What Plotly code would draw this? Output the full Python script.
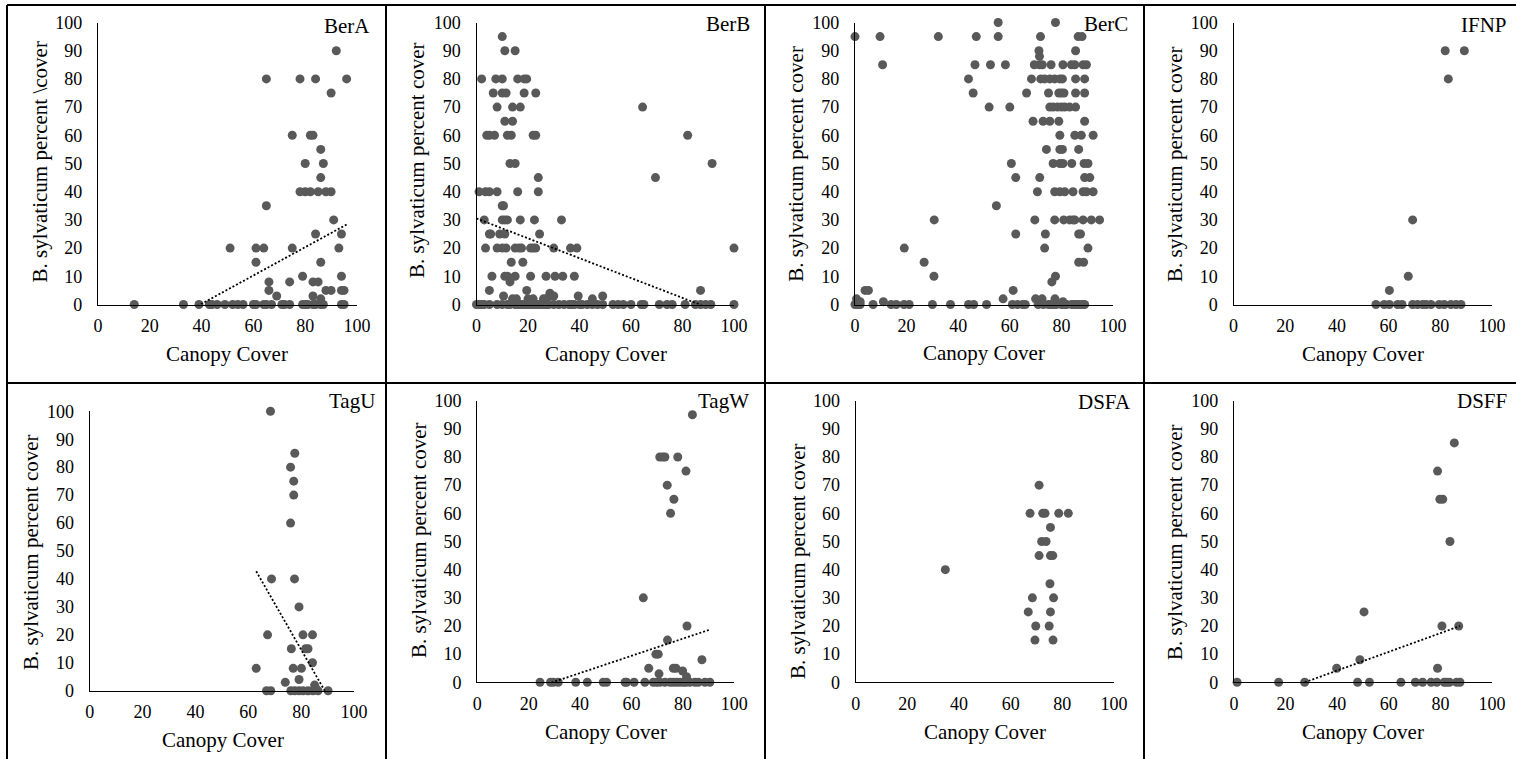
import plotly.graph_objects as go

# ---------------- data ----------------
panel_names = ["BerA", "BerB", "BerC", "IFNP", "TagU", "TagW", "DSFA", "DSFF"]
y_titles = ["B. sylvaticum percent \\cover"] + ["B. sylvaticum percent cover"] * 7
x_title = "Canopy Cover"
x_ticks = [0, 20, 40, 60, 80, 100]
y_ticks = [0, 10, 20, 30, 40, 50, 60, 70, 80, 90, 100]

berA_x = [14, 33, 39, 43, 44, 46, 49, 52, 54, 56, 60, 61, 64, 65, 67, 71, 72, 74, 79, 80, 81, 83, 84, 86, 87, 94, 95,
          51, 61, 64, 61, 65, 65, 66, 66, 69, 74, 75, 75, 78, 79, 80, 78, 80, 82, 85, 88, 90, 82, 83, 84, 84, 83, 85,
          83, 86, 86, 87, 86, 86, 88, 90, 91, 90, 92, 94, 93, 94, 94, 95, 96]
berA_y = [0] * 27 + \
         [20, 20, 20, 15, 80, 35, 8, 5, 3, 8, 20, 60, 80, 10, 50, 40, 40, 40, 40, 40, 40, 60, 60, 80, 25, 8, 8,
          3, 55, 45, 50, 15, 2, 5, 5, 30, 75, 90, 25, 20, 10, 5, 5, 80]

berB_x = [10, 11, 15, 2, 7.5, 10, 16, 18.5, 19.5, 6.5, 10, 11.5, 18.5, 23, 8, 14, 17, 11, 14, 4, 5, 7, 12, 13.5, 22, 23,
          13, 15, 24, 1, 3.5, 5, 8, 16, 24, 10, 10.5, 3, 10, 11, 12, 17, 22.5, 33, 5, 5.5, 9, 11, 24.5,
          3.5, 8, 10, 11.5, 15, 16.5, 17.5, 21, 22, 23, 30, 36.5, 39, 13.5, 18, 6, 11, 12, 15, 21, 27, 30.5, 33.5, 38,
          13, 5, 19.5, 28.5, 10.5, 29, 30, 39.5, 49, 45, 14, 15.5, 20, 22, 26, 27, 87, 64.5, 82, 91.5, 69.5, 100,
          0, 1, 2, 3, 5, 8, 10, 12, 13, 15, 16, 17, 18, 19, 20, 21, 22, 23, 24, 25, 26, 27, 28, 30, 32, 34, 36, 37,
          38, 40, 41, 43, 45, 47, 49, 53, 55, 57, 60, 64, 65, 71, 74, 76, 81, 85, 87, 89, 91, 100]
berB_y = [95, 90, 90, 80, 80, 80, 80, 80, 80, 75, 75, 75, 75, 75, 70, 70, 70, 65, 65, 60, 60, 60, 60, 60, 60, 60,
          50, 50, 45, 40, 40, 40, 40, 40, 40, 35, 35, 30, 30, 30, 30, 30, 30, 30, 25, 25, 25, 25, 25,
          20, 20, 20, 20, 20, 20, 20, 20, 20, 20, 20, 20, 20, 15, 15, 10, 10, 10, 10, 10, 10, 10, 10, 10,
          8, 5, 5, 4, 3, 3, 3, 3, 3, 2, 2, 2, 2, 2, 2, 2, 5, 70, 60, 50, 45, 20] + [0] * 50

berC_x = [0, 9.7, 10.7, 32.3, 47, 55.5, 55.5, 46.5, 52.5, 58.3, 44, 45.8, 52, 60, 66.5, 77.7, 71.9, 71.3, 71.5,
          69.5, 71.5, 72.6, 76, 68.4, 72, 73.5, 75.5, 77.4, 79.4, 80.4, 75, 79, 80, 81,
          75.5, 76.8, 78.5, 80, 81.3, 83.2, 69, 72.9, 75.5, 79, 79.4, 74.2, 79.4, 80.4, 76.8, 79.4, 80.6, 84,
          71.6, 70.7, 60.6, 62.3, 54.8, 30.7, 69.7, 62.3, 73.8, 73.5, 19.1, 26.8, 30.6, 76.3, 77.7, 61.3,
          3.9, 5.2, 57.4, 11, 0.6, 2,
          77.4, 79.4, 81.3, 84.5, 88.4, 89.7, 92.3, 77.4, 80.9, 83.2, 84.5, 85.2, 88.4, 91.6, 94.8,
          86.7, 87.4, 86.7, 88.6, 90.3, 88.8, 90.3, 89, 91, 85.2, 87.7, 92.3, 86.7, 89, 85.5, 85.5, 89,
          85.5, 89, 80.6, 83.9, 85.2, 88.4, 89.7, 85.5, 86.5, 88,
          70, 72.5, 77.5, 80.6,
          0, 1, 2, 7, 14, 16, 19, 21, 30, 37, 44, 46, 51, 61, 63, 65, 66, 71, 73, 75, 76, 77, 78, 80, 81, 82,
          84, 85, 86, 87, 88, 89]
berC_y = [95, 95, 85, 95, 95, 100, 95, 85, 85, 85, 80, 75, 70, 70, 75, 100, 95, 90, 88,
          85, 85, 85, 85, 80, 80, 80, 80, 80, 80, 80, 75, 75, 75, 75,
          70, 70, 70, 70, 70, 70, 65, 65, 65, 65, 60, 55, 55, 55, 50, 50, 50, 50,
          45, 40, 50, 45, 35, 30, 30, 25, 25, 20, 20, 15, 10, 8, 10, 5,
          5, 5, 2, 1, 2, 1,
          40, 40, 40, 40, 40, 40, 40, 30, 30, 30, 30, 30, 30, 30, 30,
          25, 25, 15, 15, 20, 50, 50, 45, 45, 60, 60, 60, 55, 65, 70, 75, 75,
          80, 80, 85, 85, 85, 85, 85, 90, 95, 95,
          2, 2, 2, 1] + [0] * 32

ifnp_x = [81.9, 89.3, 83.1, 69.3, 67.6, 60.3,
          55.1, 58.3, 60.3, 63.5, 65.2, 69.3, 71.2, 73.2, 74.5, 76.4, 79.6, 81.5, 84.1, 86.1, 88]
ifnp_y = [90, 90, 80, 30, 10, 5] + [0] * 15

tagU_x = [68.4, 77.6, 76, 77.2, 77.2, 76, 68.8, 77.5, 79.2, 67.3, 80.7, 84.3, 76.3, 81.7, 82.6, 84.3, 63, 77, 80.1,
          79.2, 74, 85.1, 85.5,
          66.9, 68.5, 76.1, 77.6, 79.2, 80.7, 82.6, 84.5, 86.4, 90.2]
tagU_y = [100, 85, 80, 75, 70, 60, 40, 40, 30, 20, 20, 20, 15, 15, 15, 10, 8, 8, 8, 4, 3, 2, 1] + [0] * 10

tagW_x = [83.7, 71, 72.1, 73, 78, 81.2, 73.9, 76.5, 75.2, 64.6, 81.6, 74, 69.5, 70.4, 87.4, 66.7, 76.3, 77.3,
          79.9, 70.7, 81.4,
          24.4, 28.5, 29.6, 31.5, 38.3, 42.8, 49, 50.3, 57.5, 58.1, 61, 65.2, 68.5, 69.8, 71, 73, 75, 76.3, 77.6,
          78.9, 80.2, 81.2, 82.7, 84.7, 86, 88.6, 90.5]
tagW_y = [95, 80, 80, 80, 80, 75, 70, 65, 60, 30, 20, 15, 10, 10, 8, 5, 5, 5, 4, 3, 2] + [0] * 27

dsfa_x = [34.7, 71, 67.5, 72.4, 73.3, 78.6, 82.3, 75.4, 72, 73.7, 71, 75.4, 76.3, 75.2, 68.4, 76.6, 66.8, 75.4,
          69.7, 74.9, 69.4, 76.4]
dsfa_y = [40, 70, 60, 60, 60, 60, 60, 55, 50, 50, 45, 45, 45, 35, 30, 30, 25, 25, 20, 20, 15, 15]

dsff_x = [85.4, 78.9, 79.8, 80.9, 83.7, 50.4, 80.6, 87.1, 48.8, 39.8, 78.9,
          1.2, 17.3, 27.4, 47.9, 52.5, 64.7, 70.3, 73.1, 76.4, 78.6, 81.5, 82.4, 83.5, 86.3, 87.6]
dsff_y = [85, 75, 65, 65, 50, 25, 20, 20, 8, 5, 5] + [0] * 15

# linear trendlines (slope, intercept); None = no trendline
trend_slope = [0.502, -0.352, None, None, -1.65, 0.305, None, 0.332]
trend_intercept = [-19.83, 30.5, None, None, 146.7, -8.9, None, -9.1]

panel_x = [berA_x, berB_x, berC_x, ifnp_x, tagU_x, tagW_x, dsfa_x, dsff_x]
panel_y = [berA_y, berB_y, berC_y, ifnp_y, tagU_y, tagW_y, dsfa_y, dsff_y]

# ---------------- layout geometry (screen pixels) ----------------
W, H = 1516, 759
px_x0 = [98, 476.5, 855, 1233.5, 89.7, 477.3, 855.7, 1234]
px_x1 = [357, 734, 1113, 1492, 354, 734.3, 1114, 1492]
px_y0 = [304.5, 304.5, 304.5, 304.5, 690.7, 682.3, 682.3, 682.3]
px_y1 = [22.5, 22.5, 22.5, 22.5, 411.3, 400.7, 400.7, 400.7]
ytitle_x = [39, 417, 795.7, 1175, 31, 419, 798, 1175]
ytitle_y = [162.5, 160, 164, 164, 552, 540, 561, 542]
xtitle_x = [227, 606, 984, 1362.7, 223, 606, 985, 1362.7]
xtitle_y = [354, 354, 353.3, 354, 739.7, 732, 732, 732]
label_x = [372, 751.7, 1130, 1509, 376.7, 751, 1133, 1508.7]
label_y = [25.5, 24.5, 24.5, 25, 401, 401, 402, 401]

FONT = "Liberation Serif"
TXT = "#000000"
DOT = "#595959"


def fx(p):
    return p / W


def fy(p):
    return 1 - p / H


fig = go.Figure()
annotations = []
layout = {}
for i in range(8):
    sfx = "" if i == 0 else str(i + 1)
    xa, ya = "x" + sfx, "y" + sfx
    fig.add_trace(go.Scatter(
        x=panel_x[i], y=panel_y[i], mode="markers", xaxis=xa, yaxis=ya,
        marker=dict(size=9, color=DOT, line=dict(width=0)),
        cliponaxis=False, showlegend=False, hoverinfo="x+y"))
    if trend_slope[i] is not None:
        xs = [min(panel_x[i]), max(panel_x[i])]
        ys = [trend_intercept[i] + trend_slope[i] * v for v in xs]
        fig.add_trace(go.Scatter(
            x=xs, y=ys, mode="lines", xaxis=xa, yaxis=ya,
            line=dict(color="#000000", width=1.8, dash="2px,2px"),
            showlegend=False, hoverinfo="skip"))
    layout["xaxis" + sfx] = dict(
        domain=[fx(px_x0[i]), fx(px_x1[i])], range=[0, 100], anchor=ya, automargin=False,
        tickvals=x_ticks, ticks="outside", ticklen=5, tickcolor="rgba(0,0,0,0)",
        showline=True, linecolor="#000000", linewidth=1.3, showgrid=False, zeroline=False,
        tickfont=dict(family=FONT, size=18, color=TXT), fixedrange=True)
    layout["yaxis" + sfx] = dict(
        domain=[fy(px_y0[i]), fy(px_y1[i])], range=[0, 100], anchor=xa, automargin=False,
        tickvals=y_ticks, ticks="outside", ticklen=11, tickcolor="rgba(0,0,0,0)",
        showline=True, linecolor="#000000", linewidth=1.3, showgrid=False, zeroline=False,
        tickfont=dict(family=FONT, size=18, color=TXT), fixedrange=True)
    annotations.append(dict(
        text=y_titles[i], x=fx(ytitle_x[i]), y=fy(ytitle_y[i]), xref="paper", yref="paper",
        xanchor="center", yanchor="middle", textangle=-90, showarrow=False,
        font=dict(family=FONT, size=21, color=TXT)))
    annotations.append(dict(
        text=x_title, x=fx(xtitle_x[i]), y=fy(xtitle_y[i]), xref="paper", yref="paper",
        xanchor="center", yanchor="middle", showarrow=False,
        font=dict(family=FONT, size=21, color=TXT)))
    annotations.append(dict(
        text=panel_names[i], x=fx(label_x[i]), y=fy(label_y[i]), xref="paper", yref="paper",
        xanchor="right", yanchor="middle", showarrow=False,
        font=dict(family=FONT, size=21, color=TXT)))

# table-like cell borders
shapes = []
for xv in [7, 386, 765, 1144]:
    shapes.append(dict(type="line", xref="paper", yref="paper", x0=fx(xv), x1=fx(xv), y0=fy(5), y1=fy(759),
                       line=dict(color="#000000", width=2)))
for yv in [5, 383]:
    shapes.append(dict(type="line", xref="paper", yref="paper", x0=fx(7), x1=fx(1516), y0=fy(yv), y1=fy(yv),
                       line=dict(color="#000000", width=2)))

fig.update_layout(
    width=W, height=H, autosize=False,
    margin=dict(l=0, r=0, t=0, b=0, pad=0, autoexpand=False),
    paper_bgcolor="white", plot_bgcolor="white",
    annotations=annotations, shapes=shapes, **layout)

fig.write_html("out.html", config={"displayModeBar": False},
               post_script="document.body.style.margin='0';document.body.style.overflow='hidden';")
